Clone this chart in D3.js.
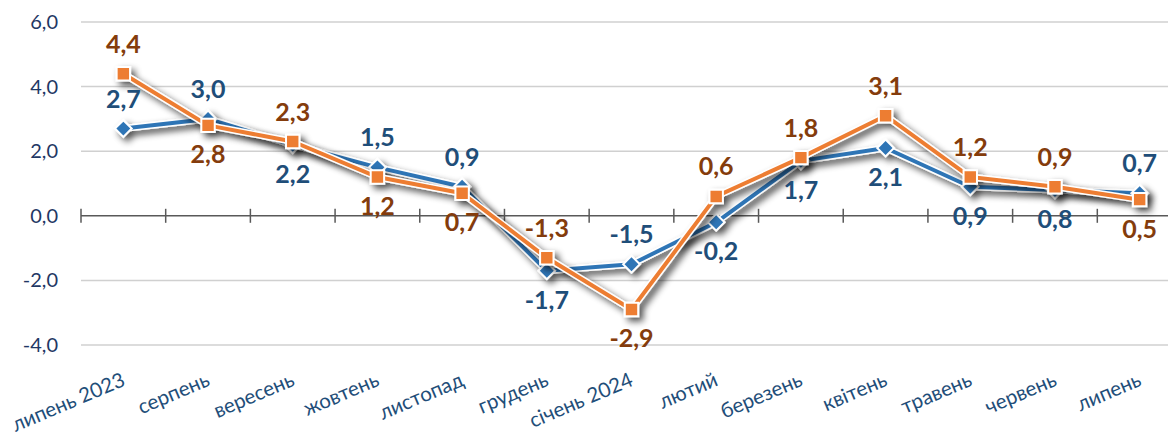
<!DOCTYPE html>
<html lang="uk">
  <head>
    <meta charset="utf-8" />
    <title>Chart</title>
    <style>
      body { margin: 0; background: #fff; }
      svg { display: block; font-family: Lato, "Open Sans", sans-serif; }
    </style>
  </head>
  <body>
    <svg id="chart" width="1168" height="436"></svg>
    <script src="https://d3js.org/d3.v7.min.js"></script>
    <script>
      const months = ["липень 2023", "серпень", "вересень", "жовтень", "листопад", "грудень",
        "січень 2024", "лютий", "березень", "квітень", "травень", "червень", "липень"];
      const blueValues = [2.7, 3.0, 2.2, 1.5, 0.9, -1.7, -1.5, -0.2, 1.7, 2.1, 0.9, 0.8, 0.7];
      const orangeValues = [4.4, 2.8, 2.3, 1.2, 0.7, -1.3, -2.9, 0.6, 1.8, 3.1, 1.2, 0.9, 0.5];
      const yTicks = [-4, -2, 0, 2, 4, 6];
      // label side per point: 1 = above, -1 = below
      const bluePos = [1, 1, -1, 1, 1, -1, 1, -1, -1, -1, -1, -1, 1];
      const orangePos = [1, -1, 1, -1, -1, 1, -1, 1, 1, 1, 1, 1, -1];

      const svg = d3.select("#chart");
      const fmt = (v) => d3.format(".1f")(v).replace(".", ",").replace("\u2212", "-");

      const x = d3.scaleBand().domain(months).range([81, 1182]);
      const y = d3.scaleLinear().domain([-4, 6]).range([345, 22]);
      const cx = (d) => x(d) + x.bandwidth() / 2;

      // shadow filter
      const defs = svg.append("defs");
      const f = defs.append("filter").attr("id", "shadow")
        .attr("x", "-10%").attr("y", "-20%").attr("width", "120%").attr("height", "140%");
      f.append("feGaussianBlur").attr("in", "SourceAlpha").attr("stdDeviation", 3.5).attr("result", "b");
      f.append("feOffset").attr("in", "b").attr("dx", 4).attr("dy", 4).attr("result", "o");
      f.append("feComponentTransfer").attr("in", "o").attr("result", "s")
        .append("feFuncA").attr("type", "linear").attr("slope", 0.7);
      const m = f.append("feMerge");
      m.append("feMergeNode").attr("in", "s");
      m.append("feMergeNode").attr("in", "SourceGraphic");

      // gridlines
      svg.append("g").selectAll("line")
        .data(yTicks.filter((t) => t !== 0))
        .join("line")
        .attr("x1", 81).attr("x2", 1168)
        .attr("y1", (d) => y(d)).attr("y2", (d) => y(d))
        .attr("stroke", "#d0d0d0").attr("stroke-width", 1.5);

      // y axis labels
      svg.append("g").selectAll("text")
        .data(yTicks)
        .join("text")
        .attr("x", 58).attr("y", (d) => y(d))
        .attr("dy", "0.35em")
        .attr("text-anchor", "end")
        .attr("fill", "#1f3864")
        .style("font-size", "20px")
        .text(fmt);

      // zero axis with category ticks
      const zero = svg.append("g").attr("transform", "translate(0," + y(0) + ")");
      zero.append("line").attr("x1", 81).attr("x2", 1168)
        .attr("stroke", "#595959").attr("stroke-width", 1.5);
      zero.selectAll(".tk")
        .data(months.concat(["end"]))
        .join("line")
        .attr("class", "tk")
        .attr("x1", (d, i) => 81 + i * x.bandwidth())
        .attr("x2", (d, i) => 81 + i * x.bandwidth())
        .attr("y1", -7).attr("y2", 7)
        .attr("stroke", "#595959").attr("stroke-width", 1.5);

      // x labels
      svg.append("g").selectAll("text")
        .data(months)
        .join("text")
        .attr("transform", (d) => "translate(" + (cx(d) + 3) + ",385) rotate(-23)")
        .attr("text-anchor", "end")
        .attr("fill", "#1f4e79")
        .style("font-size", "20.5px")
        .text((d) => d);

      const line = d3.line().x((d, i) => cx(months[i])).y((d) => y(d));

      function drawSeries(values, color, diamond) {
        const g = svg.append("g").attr("filter", "url(#shadow)");
        g.append("path").datum(values).attr("d", line)
          .attr("fill", "none").attr("stroke", "#fff").attr("stroke-width", 7)
          .attr("stroke-linejoin", "round");
        g.append("path").datum(values).attr("d", line)
          .attr("fill", "none").attr("stroke", color).attr("stroke-width", 4)
          .attr("stroke-linejoin", "round");
        const sym = d3.symbol().type(d3.symbolSquare).size(diamond ? 140 : 180);
        g.selectAll("path.mk")
          .data(values)
          .join("path")
          .attr("class", "mk")
          .attr("d", sym)
          .attr("transform", (d, i) => "translate(" + cx(months[i]) + "," + y(d) + ")" +
            (diamond ? " rotate(45)" : ""))
          .attr("fill", color).attr("stroke", "#fff").attr("stroke-width", 2);
      }

      function drawLabels(values, pos, color) {
        svg.append("g").selectAll("text")
          .data(values)
          .join("text")
          .attr("x", (d, i) => cx(months[i]))
          .attr("y", (d, i) => y(d) + (pos[i] > 0 ? -21 : 38))
          .attr("text-anchor", "middle")
          .attr("fill", color)
          .style("font-size", "25px")
          .style("font-weight", "bold")
          .text(fmt);
      }

      drawSeries(blueValues, "#2e75b6", true);
      drawSeries(orangeValues, "#ed7d31", false);
      drawLabels(blueValues, bluePos, "#1f4e79");
      drawLabels(orangeValues, orangePos, "#843c0c");
    </script>
  </body>
</html>
